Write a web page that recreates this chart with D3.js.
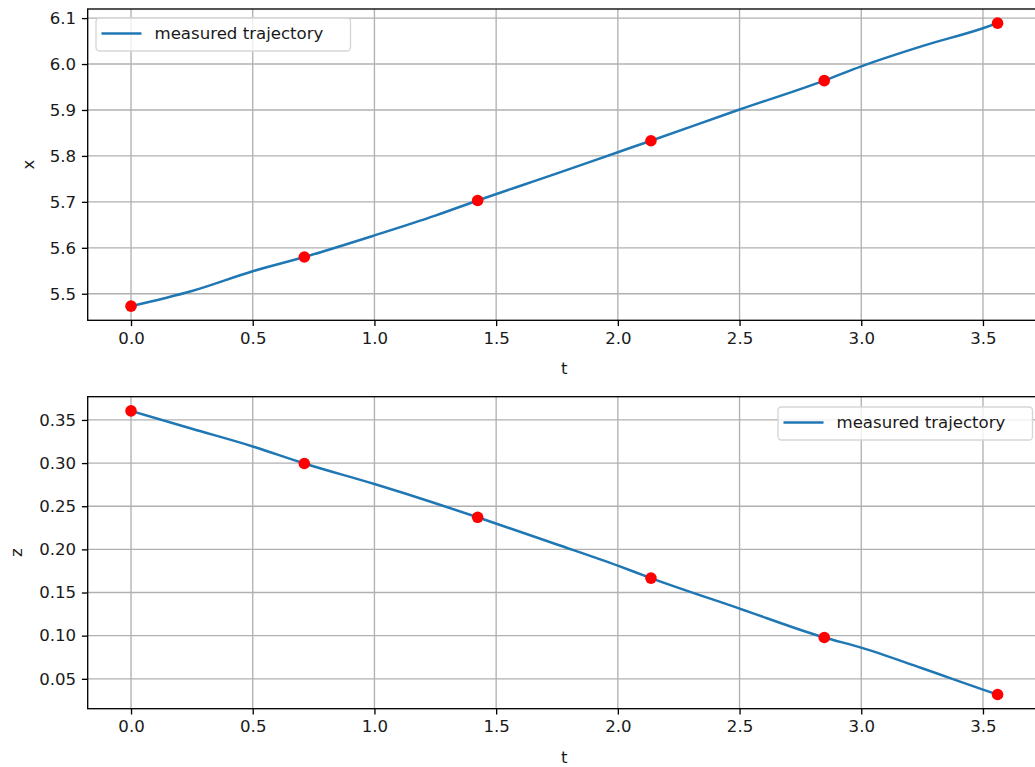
<!DOCTYPE html>
<html>
<head>
<meta charset="utf-8">
<script src="https://cdn.jsdelivr.net/npm/d3@7"></script>
<style>
  html, body { margin: 0; padding: 0; background: #fff; }
  svg { display: block; font-family: "DejaVu Sans", sans-serif; }
</style>
</head>
<body>
<svg id="chart" width="1035" height="767"></svg>
<script>
// ---- data ----
const sampleT = [0, 0.712, 1.424, 2.136, 2.848, 3.560];
const sampleX = [5.473, 5.580, 5.703, 5.833, 5.964, 6.089];
const sampleZ = [0.3605, 0.2995, 0.2372, 0.1667, 0.0979, 0.0318];

const lineT = [0, 0.25, 0.5, 0.712, 1.0, 1.25, 1.424, 1.75, 2.0, 2.136, 2.5, 2.848, 3.0, 3.25, 3.5, 3.56];
const lineX = [5.473, 5.506, 5.549, 5.580, 5.627, 5.670, 5.703, 5.762, 5.808, 5.833, 5.901, 5.964, 5.995, 6.039, 6.078, 6.089];
const lineZ = [0.3605, 0.3398, 0.3193, 0.2995, 0.2757, 0.2535, 0.2372, 0.2057, 0.1811, 0.1667, 0.1314, 0.0979, 0.0862, 0.0622, 0.0375, 0.0318];

const tTicks = [0, 0.5, 1.0, 1.5, 2.0, 2.5, 3.0, 3.5];
const xTicks = [5.5, 5.6, 5.7, 5.8, 5.9, 6.0, 6.1];
const zTicks = [0.05, 0.10, 0.15, 0.20, 0.25, 0.30, 0.35];
const legendLabel = "measured trajectory";

// ---- layout ----
const svg = d3.select("#chart");
svg.append("rect").attr("width", 1035).attr("height", 767).attr("fill", "#fff");

const left = 87.7, right = 1040.9;
const FONT = 16.6;
const TXT = "#1a1a1a";

function padDomain(vals) {
  const [a, b] = d3.extent(vals);
  const m = (b - a) * 0.05;
  return [a - m, b + m];
}

function panel(opts) {
  const { top, bottom, yVals, lineY, ptsY, ticks, fmt, ylabel, ylabelX, legendPos } = opts;
  const g = svg.append("g");
  const xs = d3.scaleLinear().domain(padDomain(sampleT)).range([left, right]);
  const ys = d3.scaleLinear().domain(padDomain(yVals)).range([bottom, top]);

  const clipId = "clip" + Math.round(top);
  svg.append("clipPath").attr("id", clipId)
    .append("rect").attr("x", left).attr("y", top).attr("width", right - left).attr("height", bottom - top);

  // grid
  const grid = g.append("g").attr("clip-path", `url(#${clipId})`);
  grid.selectAll("line.gx").data(tTicks).enter().append("line")
    .attr("x1", d => xs(d)).attr("x2", d => xs(d)).attr("y1", top).attr("y2", bottom)
    .attr("stroke", "#b0b0b0").attr("stroke-width", 1.33);
  grid.selectAll("line.gy").data(ticks).enter().append("line")
    .attr("x1", left).attr("x2", right).attr("y1", d => ys(d)).attr("y2", d => ys(d))
    .attr("stroke", "#b0b0b0").attr("stroke-width", 1.33);

  // line
  const line = d3.line().curve(d3.curveMonotoneX).x((d, i) => xs(lineT[i])).y(d => ys(d));
  g.append("path").datum(lineY).attr("d", line)
    .attr("fill", "none").attr("stroke", "#1f77b4").attr("stroke-width", 2.5)
    .attr("stroke-linejoin", "round").attr("stroke-linecap", "square");

  // markers
  g.selectAll("circle").data(ptsY).enter().append("circle")
    .attr("cx", (d, i) => xs(sampleT[i])).attr("cy", d => ys(d)).attr("r", 5.8)
    .attr("fill", "#ff0000");

  // axes
  const xAxis = d3.axisBottom(xs).tickValues(tTicks).tickFormat(d3.format(".1f")).tickSizeOuter(0).tickSize(5.8).tickPadding(5.8);
  const yAxis = d3.axisLeft(ys).tickValues(ticks).tickFormat(fmt).tickSizeOuter(0).tickSize(5.8).tickPadding(5.8);
  const ax = g.append("g").attr("transform", `translate(0,${bottom})`).call(xAxis);
  const ay = g.append("g").attr("transform", `translate(${left},0)`).call(yAxis);
  [ax, ay].forEach(a => {
    a.select(".domain").remove();
    a.selectAll(".tick line").attr("stroke", "#000").attr("stroke-width", 1.33);
    a.selectAll(".tick text").attr("fill", TXT).style("font-size", FONT + "px").style("font-family", "DejaVu Sans");
  });

  // spines
  g.append("rect").attr("x", left).attr("y", top).attr("width", right - left).attr("height", bottom - top)
    .attr("fill", "none").attr("stroke", "#000").attr("stroke-width", 1.33);

  // axis labels
  g.append("text").attr("x", (left + right) / 2).attr("y", bottom + 54).attr("text-anchor", "middle")
    .style("font-size", FONT + "px").attr("fill", TXT).text("t");
  g.append("text").attr("transform", `translate(${ylabelX},${(top + bottom) / 2}) rotate(-90)`)
    .attr("text-anchor", "middle").attr("dy", "0.35em")
    .style("font-size", FONT + "px").attr("fill", TXT).text(ylabel);

  // legend
  const lg = g.append("g");
  const lx = legendPos.x, ly = legendPos.y, lw = 254.5, lh = 33;
  lg.append("rect").attr("x", lx).attr("y", ly).attr("width", lw).attr("height", lh).attr("rx", 3.5)
    .attr("fill", "#fff").attr("fill-opacity", 0.8).attr("stroke", "#d6d6d6").attr("stroke-width", 1.33);
  lg.append("line").attr("x1", lx + 5.5).attr("x2", lx + 45.5).attr("y1", ly + 15.5).attr("y2", ly + 15.5)
    .attr("stroke", "#1f77b4").attr("stroke-width", 2.5);
  lg.append("text").attr("x", lx + 58.5).attr("y", ly + 15.5).attr("dy", "0.35em")
    .style("font-size", FONT + "px").attr("fill", TXT).text(legendLabel);
}

panel({ top: 9, bottom: 320.3, yVals: sampleX, lineY: lineX, ptsY: sampleX, ticks: xTicks,
  fmt: d3.format(".1f"), ylabel: "x", ylabelX: 28, legendPos: { x: 96, y: 18 } });
panel({ top: 396.7, bottom: 708.7, yVals: sampleZ, lineY: lineZ, ptsY: sampleZ, ticks: zTicks,
  fmt: d3.format(".2f"), ylabel: "z", ylabelX: 16.5, legendPos: { x: 778, y: 407 } });
</script>
</body>
</html>
